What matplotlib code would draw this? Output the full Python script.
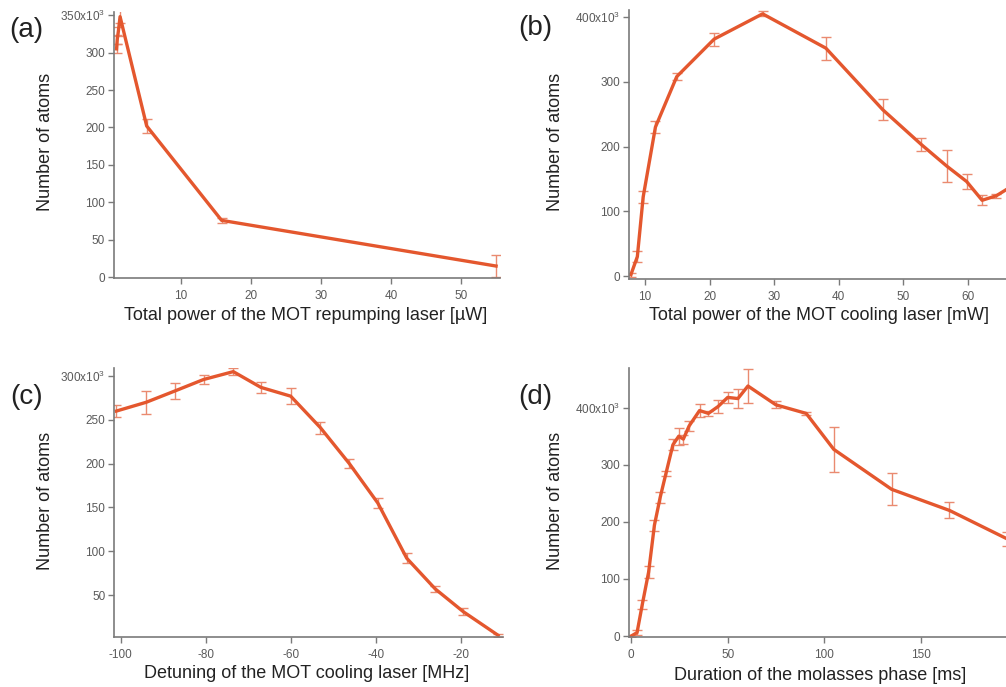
import numpy as np
import matplotlib
matplotlib.use("Agg")
import matplotlib.pyplot as plt
from matplotlib.ticker import FuncFormatter

plt.rcParams['font.family'] = ['Liberation Sans', 'DejaVu Sans']
plt.rcParams['mathtext.default'] = 'regular'
plt.rcParams['axes.unicode_minus'] = False

# (a) repumping power [uW] vs atom number [x10^3]
rep_power = [0.8, 0.9, 1.05, 1.3, 5.1, 15.8, 55.0]
rep_atoms = [305, 318, 328, 348, 202, 76, 15]
rep_err = [6, 6, 6, 9, 9, 3, 15]

# (b) cooling power [mW]
cool_power = [7.8, 8.8, 9.7, 11.6, 14.9, 20.7, 28.2, 38.0, 46.8, 52.8, 56.7, 59.8, 62.2, 64.4, 67.0]
cool_atoms = [2, 30, 122, 230, 308, 366, 405, 352, 257, 203, 170, 146, 117, 124, 140]
cool_err = [3, 8, 9, 9, 5, 10, 4, 18, 16, 10, 24, 12, 8, 3, 6]

# (c) detuning [MHz]
detuning = [-101, -94, -87.2, -80.5, -73.5, -67, -60, -53, -46.2, -39.5, -32.7, -26, -19.4, -11.2]
det_atoms = [260, 270, 283, 296, 305, 287, 277, 241, 200, 155, 92, 57, 31, 4]
det_err = [7, 13, 9, 5, 4, 6, 9, 7, 5, 6, 6, 3, 4, 2]

# (d) molasses duration [ms]
molasses_t = [0, 3, 5.7, 9, 12, 15, 18, 21.6, 24.6, 27, 30, 35.4, 40, 45, 50, 55.3, 60.5, 75, 90.7, 105, 135, 165, 195]
mol_atoms = [0, 6, 55, 112, 194, 243, 285, 335, 350, 345, 368, 395, 390, 402, 418, 416, 438, 405, 390, 327, 257, 220, 170]
mol_err = [2, 4, 8, 10, 10, 10, 4, 10, 15, 8, 8, 12, 5, 12, 10, 16, 30, 6, 2, 40, 28, 14, 12]

line_c = '#E4572E'
err_c = '#EA8A70'
axis_c = '#7a7a7a'

fig = plt.figure(figsize=(10.06, 6.87), dpi=100)


def panel(rect, x, y, e, xlim, ylim, yticks, xticks, xlabel, xlab_pos, ylab_pos, tag, tag_pos):
    ax = fig.add_axes(rect)
    ax.errorbar(x, y, yerr=e, color=line_c, ecolor=err_c, elinewidth=1.0,
                capsize=3.6, capthick=1.0, lw=2.4, clip_on=True)
    ax.set_xlim(*xlim)
    ax.set_ylim(*ylim)
    ax.set_yticks(yticks)
    ax.set_xticks(xticks)
    top = yticks[-1]
    ax.yaxis.set_major_formatter(FuncFormatter(
        lambda v, p: ('%dx10$^{3}$' % v) if v == top else '%d' % v))
    for s in ['top', 'right']:
        ax.spines[s].set_visible(False)
    for s in ['left', 'bottom']:
        ax.spines[s].set_color(axis_c)
        ax.spines[s].set_linewidth(1.2)
    ax.tick_params(direction='out', length=4.5, width=1, color=axis_c,
                   labelsize=8.5, labelcolor='#5a5a5a')
    ax.tick_params(axis='x', pad=4)
    ax.tick_params(axis='y', pad=2)
    ax.set_xlabel(xlabel, fontsize=13, color='#222222')
    ax.xaxis.set_label_coords(xlab_pos[0] / 1006, 1 - xlab_pos[1] / 687, transform=fig.transFigure)
    ax.set_ylabel('Number of atoms', fontsize=13, color='#222222')
    ax.yaxis.set_label_coords(ylab_pos[0] / 1006, 1 - ylab_pos[1] / 687, transform=fig.transFigure)
    ax.xaxis.label.set_va('center')
    ax.yaxis.label.set_va('center')
    fig.text(tag_pos[0] / 1006, 1 - tag_pos[1] / 687, tag, fontsize=20,
             color='#222222', ha='left', va='center')
    return ax


panel([0.1133, 0.5953, 0.384, 0.387], rep_power, rep_atoms, rep_err,
      (0.43, 55.6), (-1, 354), [0, 50, 100, 150, 200, 250, 300, 350], [10, 20, 30, 40, 50],
      'Total power of the MOT repumping laser [µW]', (306, 315), (45, 142), '(a)', (9, 30))

panel([0.6252, 0.5935, 0.3748, 0.392], cool_power, cool_atoms, cool_err,
      (7.5, 65.9), (-5, 411), [0, 100, 200, 300, 400], [10, 20, 30, 40, 50, 60],
      'Total power of the MOT cooling laser [mW]', (819, 315), (555, 142), '(b)', (518, 28))

panel([0.1136, 0.0723, 0.3864, 0.3916], detuning, det_atoms, det_err,
      (-101.5, -10.05), (1.7, 308.8), [50, 100, 150, 200, 250, 300], [-100, -80, -60, -40, -20],
      'Detuning of the MOT cooling laser [MHz]', (307, 674), (45, 501), '(c)', (10, 397))

panel([0.6252, 0.0723, 0.3748, 0.3916], molasses_t, mol_atoms, mol_err,
      (-1.2, 194.3), (-2.3, 469), [0, 100, 200, 300, 400], [0, 50, 100, 150],
      'Duration of the molasses phase [ms]', (820, 675), (555, 501), '(d)', (518, 397))

fig.savefig('out.png', dpi=100)
